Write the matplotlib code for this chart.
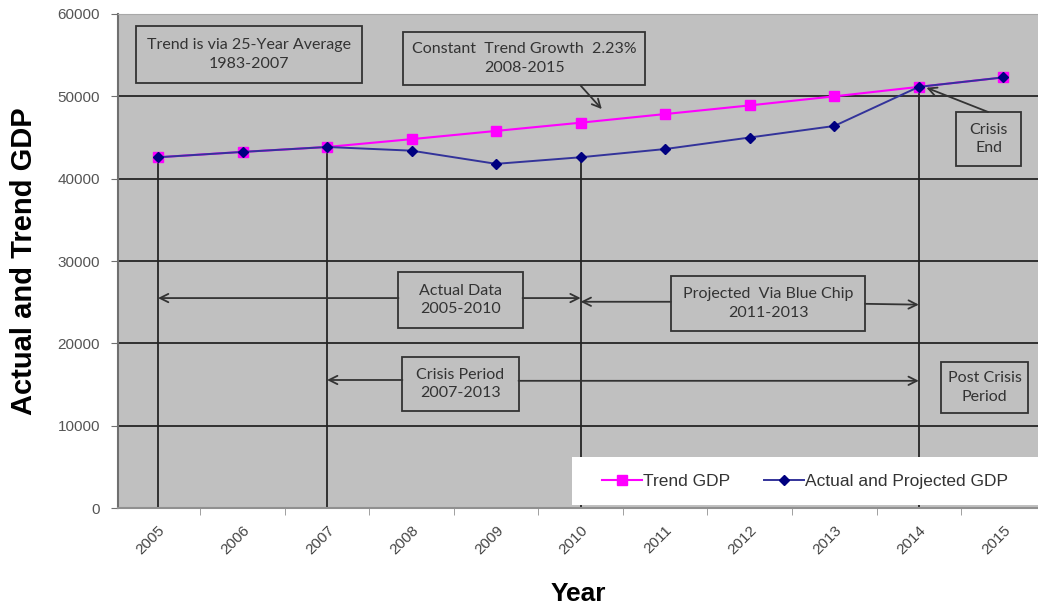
import numpy as np
import matplotlib.pyplot as plt
from matplotlib.patches import Rectangle

years = ['2005', '2006', '2007', '2008', '2009', '2010',
         '2011', '2012', '2013', '2014', '2015']
trend_gdp = [42600, 43250, 43850, 44800, 45800, 46800,
             47850, 48900, 50000, 51150, 52300]
actual_gdp = [42600, 43250, 43850, 43400, 41800, 42600,
              43600, 45000, 46400, 51150, 52300]
# years where a vertical marker line drops to the axis
marker_years = ['2005', '2007', '2010', '2014']

box_font = ['Lato', 'DejaVu Sans']
line_col = '#262626'

fig = plt.figure(figsize=(10.38, 6.14), dpi=100)
ax = fig.add_axes([0.1137, 0.1726, 0.8863, 0.8046])
ax.set_facecolor('#C0C0C0')

x = np.arange(len(years))
ax.set_xlim(-0.473, 10.41)
ax.set_ylim(0, 60000)

# horizontal grid
for v in range(10000, 60000, 10000):
    ax.axhline(v, color=line_col, lw=1.3, zorder=1)

# vertical lines from the data point down to zero
for yr in marker_years:
    i = years.index(yr)
    ax.vlines(i, 0, actual_gdp[i], color=line_col, lw=1.3, zorder=1)

ax.plot(x, trend_gdp, color='#FF00FF', lw=1.5, marker='s', ms=7,
        mec='#FF00FF', mfc='#FF00FF', label='Trend GDP', zorder=3)
ax.plot(x, actual_gdp, color='#33339A', lw=1.4, marker='D', ms=5,
        mec='#000080', mfc='#000080', label='Actual and Projected GDP', zorder=4)

# text boxes: (x0, x1, y0, y1, text)
boxes = [
    (-0.261, 2.417, 51620, 58545, 'Trend is via 25-Year Average\n1983-2007'),
    (2.903, 5.758, 51378, 57815, 'Constant  Trend Growth  2.23%\n2008-2015'),
    (9.443, 10.213, 41540, 48098, 'Crisis\nEnd'),
    (2.844, 4.313, 21863, 28665, 'Actual Data\n2005-2010'),
    (6.066, 8.365, 21500, 28180, 'Projected  Via Blue Chip\n2011-2013'),
    (2.891, 4.265, 11780, 18340, 'Crisis Period\n2007-2013'),
    (9.265, 10.296, 11540, 17733, 'Post Crisis\nPeriod'),
]
for x0, x1, y0, y1, txt in boxes:
    ax.add_patch(Rectangle((x0, y0), x1 - x0, y1 - y0, facecolor='#C0C0C0',
                           edgecolor='#333333', lw=1.3, zorder=5))
    ax.text((x0 + x1) / 2, (y0 + y1) / 2, txt, ha='center', va='center',
            fontsize=11.5, family=box_font, color='#333333', linespacing=1.4,
            zorder=6)

arrow = dict(arrowstyle='->', color='#333333', lw=1.3, mutation_scale=15,
             shrinkA=0, shrinkB=0)


def arr(x_from, y_from, x_to, y_to):
    ax.annotate('', xy=(x_to, y_to), xytext=(x_from, y_from),
                arrowprops=arrow, zorder=5)


i05, i07, i10, i14 = [years.index(y) for y in marker_years]
arr(5.0, 51300, 5.25, 48450)
arr(9.82, 48098, i14 + 0.09, 51050)
arr(2.844, 25500, i05, 25500)
arr(4.313, 25500, i10, 25500)
arr(6.066, 25050, i10, 25050)
arr(8.365, 24800, i14, 24700)
arr(2.891, 15550, i07, 15550)
arr(4.265, 15450, i14, 15450)

# legend on a white strip
ax.add_patch(Rectangle((0.4935, 0.006), 0.5065, 0.0972, transform=ax.transAxes,
                       facecolor='white', edgecolor='none', zorder=7))
leg = ax.legend(loc='center', bbox_to_anchor=(0.4935 + 0.5065 / 2, 0.006 + 0.0972 / 2),
                ncol=2, frameon=False, handlelength=2.3, handletextpad=0.05,
                columnspacing=2.0, prop={'family': 'Liberation Sans', 'size': 12.5})
leg.set_zorder(8)
for t in leg.get_texts():
    t.set_color('#333333')

# axes styling
ax.spines['right'].set_visible(False)
ax.spines['top'].set_color('#A8A8A8')
ax.spines['left'].set_color('#707070')
ax.spines['bottom'].set_color('#909090')
ax.spines['left'].set_linewidth(1.5)
ax.spines['bottom'].set_linewidth(1.5)

ax.set_yticks(range(0, 60001, 10000))
ax.set_yticklabels([str(v) for v in range(0, 60001, 10000)],
                   family='Liberation Sans', fontsize=11, color='#555555')
ax.tick_params(axis='y', direction='out', length=5, color='#707070', pad=8)

ax.set_xticks(x)
ax.set_xticklabels(years, rotation=45, ha='right', va='top', rotation_mode='anchor',
                   family='Liberation Sans', fontsize=11, color='#444444')
ax.set_xticks(x[:-1] + 0.5, minor=True)
ax.tick_params(axis='x', which='major', length=0, pad=11)
ax.tick_params(axis='x', which='minor', direction='out', length=5, color='#909090')

ax.set_xlabel('Year', family='Liberation Sans', fontsize=19, fontweight='bold',
              labelpad=18)
ax.set_ylabel('Actual and Trend GDP', family='Liberation Sans', fontsize=21,
              fontweight='bold', labelpad=14)

fig.savefig('out.png', dpi=100)
